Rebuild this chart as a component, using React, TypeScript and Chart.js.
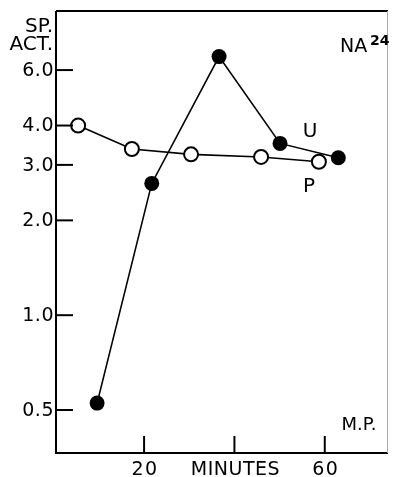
import React, { useEffect, useRef } from "react";
import { Chart, registerables } from "chart.js";

Chart.register(...registerables);

// Data (minutes, specific activity)
const uMinutes = [9.6, 21.7, 36.6, 50.1, 63.0];
const uValues = [0.526, 2.62, 6.62, 3.51, 3.16];
const pMinutes = [5.4, 17.3, 30.4, 45.9, 58.7];
const pValues = [4.0, 3.37, 3.24, 3.18, 3.07];

const yTicks = [0.5, 1.0, 2.0, 3.0, 4.0, 6.0];
const yTickLabels = ["0.5", "1.0", "2.0", "3.0", "4.0", "6.0"];
const xTicks = [20, 40, 60];
const xTickLabels = ["20", "MINUTES", "60"];

const FONT = '"DejaVu Sans", sans-serif';

const framePlugin = {
  id: "frame",
  afterDatasetsDraw(chart: any) {
    const { ctx, chartArea } = chart;
    const { left, right, top, bottom } = chartArea;
    const xs = chart.scales.x;
    const ys = chart.scales.y;
    ctx.save();
    ctx.strokeStyle = "#000";
    ctx.lineWidth = 2;
    ctx.beginPath();
    ctx.moveTo(left, top);
    ctx.lineTo(left, bottom);
    ctx.lineTo(right, bottom);
    ctx.moveTo(left, top);
    ctx.lineTo(right, top);
    ctx.stroke();
    ctx.strokeStyle = "#aaa";
    ctx.lineWidth = 1;
    ctx.beginPath();
    ctx.moveTo(right - 0.5, top);
    ctx.lineTo(right - 0.5, bottom);
    ctx.stroke();

    // y ticks (inward)
    ctx.lineWidth = 2;
    ctx.strokeStyle = "#000";
    ctx.fillStyle = "#000";
    ctx.font = `19px ${FONT}`;
    (ctx as any).letterSpacing = "0.5px";
    ctx.textAlign = "right";
    ctx.textBaseline = "middle";
    yTicks.forEach((v, i) => {
      const y = ys.getPixelForValue(v);
      ctx.beginPath();
      ctx.moveTo(left, y);
      ctx.lineTo(left + 17, y);
      ctx.stroke();
      ctx.fillText(yTickLabels[i], left - 2, y + 1);
    });

    // x ticks (inward)
    ctx.textAlign = "center";
    ctx.textBaseline = "alphabetic";
    xTicks.forEach((v, i) => {
      const x = xs.getPixelForValue(v);
      ctx.beginPath();
      ctx.moveTo(x, bottom);
      ctx.lineTo(x, bottom - 17);
      ctx.stroke();
      const lbl = xTickLabels[i];
      (ctx as any).letterSpacing = lbl === "MINUTES" ? "0.5px" : "1.5px";
      ctx.font = `19px ${FONT}`;
      ctx.fillText(lbl, x + 1, bottom + 22);
    });

    // annotations
    (ctx as any).letterSpacing = "0px";
    ctx.font = `20px ${FONT}`;
    ctx.textAlign = "right";
    ctx.fillText("SP.", 53, 32);
    ctx.fillText("ACT.", 53, 50);

    ctx.textAlign = "left";
    ctx.font = `19px ${FONT}`;
    ctx.fillText("NA", 340, 52);
    ctx.font = `bold 14px ${FONT}`;
    ctx.fillText("24", 370, 45);

    ctx.font = `20px ${FONT}`;
    ctx.textAlign = "center";
    ctx.fillText("U", 310, 137);
    ctx.fillText("P", 309, 192);
    ctx.font = `18px ${FONT}`;
    ctx.fillText("M.P.", 359, 430);
    ctx.restore();
  },
};

export default function App() {
  const ref = useRef<HTMLCanvasElement>(null);
  useEffect(() => {
    const chart = new Chart(ref.current!, {
      type: "line",
      data: {
        datasets: [
          {
            label: "U",
            data: uMinutes.map((m, i) => ({ x: m, y: uValues[i] })),
            borderColor: "#000",
            borderWidth: 1.6,
            pointRadius: 7.5,
            pointBackgroundColor: "#000",
            pointBorderWidth: 0,
            pointStyle: "circle",
            tension: 0,
          },
          {
            label: "P",
            data: pMinutes.map((m, i) => ({ x: m, y: pValues[i] })),
            borderColor: "#000",
            borderWidth: 1.6,
            pointRadius: 7,
            pointBackgroundColor: "#fff",
            pointBorderColor: "#000",
            pointBorderWidth: 2,
            pointStyle: "circle",
            tension: 0,
          },
        ],
      },
      options: {
        responsive: false,
        maintainAspectRatio: false,
        animation: false,
        layout: { padding: { left: 56, top: 11, right: 1, bottom: 24 } },
        plugins: { legend: { display: false }, tooltip: { enabled: false } },
        scales: {
          x: { type: "linear", display: false, min: 0.5, max: 74 },
          y: { type: "logarithmic", display: false, min: 0.3652, max: 9.24 },
        },
      },
      plugins: [framePlugin],
    });
    return () => chart.destroy();
  }, []);
  return (
    <div style={{ position: "absolute", left: 0, top: 0, width: 397, height: 477, background: "#fff" }}>
      <canvas ref={ref} width={397} height={477} style={{ width: 397, height: 477 }} />
    </div>
  );
}
